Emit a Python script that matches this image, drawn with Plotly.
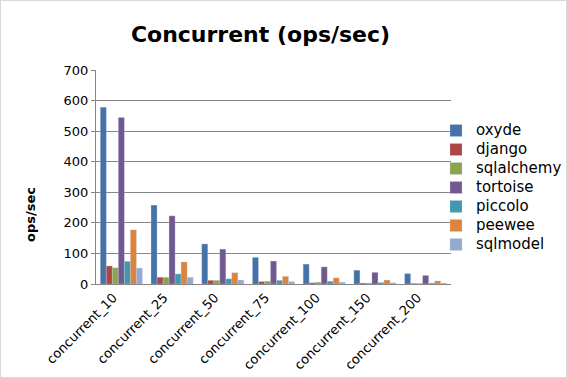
import plotly.graph_objects as go

categories = ["concurrent_10", "concurrent_25", "concurrent_50", "concurrent_75",
              "concurrent_100", "concurrent_150", "concurrent_200"]
oxyde = [578, 258, 131, 87, 65, 45, 34]
django = [59, 22, 12, 8, 4, 3, 2]
sqlalchemy = [53, 22, 12, 9, 6, 3, 2]
tortoise = [545, 223, 114, 75, 56, 38, 28]
piccolo = [74, 33, 17, 12, 9, 5, 3]
peewee = [177, 72, 37, 25, 20, 13, 10]
sqlmodel = [52, 22, 13, 8, 6, 4, 3]
y_ticks = [0, 100, 200, 300, 400, 500, 600, 700]

series = [
    ("oxyde", oxyde, "#4572A7"),
    ("django", django, "#AA4643"),
    ("sqlalchemy", sqlalchemy, "#89A54E"),
    ("tortoise", tortoise, "#71588F"),
    ("piccolo", piccolo, "#4198AF"),
    ("peewee", peewee, "#DB843D"),
    ("sqlmodel", sqlmodel, "#93A9CF"),
]

fig = go.Figure()
for name, vals, color in series:
    fig.add_trace(go.Bar(x=categories, y=vals,
                         name='<span style="font-size:15px">' + name + '</span>',
                         marker=dict(color=color, line=dict(color="rgba(200,210,230,0.6)", width=0.5))))

L, R, T, B = 96, 116, 70, 94
PW, PH = 567 - L - R, 378 - T - B

fig.update_layout(
    width=567, height=378,
    barmode="group", bargap=0.17, bargroupgap=0,
    paper_bgcolor="white", plot_bgcolor="white",
    font=dict(family="DejaVu Sans", size=13, color="black"),
    title=dict(text="<b>Concurrent (ops/sec)</b>", x=260.5 / 567, xref="container",
               xanchor="center", y=1 - 34 / 378, yref="container", yanchor="middle",
               font=dict(size=22, color="black")),
    margin=dict(l=L, r=R, t=T, b=B, autoexpand=False),
    legend=dict(x=(436 - L) / PW, xanchor="left", y=(284 - 187.5) / PH, yanchor="middle",
                font=dict(size=12), itemwidth=30, tracegroupgap=0,
                bgcolor="rgba(0,0,0,0)"),
    showlegend=True,
    annotations=[dict(text="<b>ops/sec</b>", xref="paper", yref="paper",
                      x=(30 - L) / PW, y=(284 - 215) / PH, xanchor="center",
                      yanchor="middle", textangle=-90, showarrow=False,
                      font=dict(size=13, color="black"))],
    shapes=[dict(type="rect", xref="paper", yref="paper",
                 x0=-L / PW, x1=1 + R / PW,
                 y0=-B / PH, y1=1 + T / PH,
                 line=dict(color="#d9d9d9", width=2))],
)
fig.update_yaxes(range=[0, 700], tickvals=y_ticks, showgrid=True, gridcolor="#868686",
                 gridwidth=1, showline=True, linecolor="#868686", ticks="outside",
                 ticklen=4, tickcolor="#868686", zeroline=False, automargin=False,
                 tickfont=dict(size=13))
fig.update_xaxes(tickangle=-45, showline=True, linecolor="#868686", ticks="",
                 automargin=False, ticklabelshift=-8, tickfont=dict(size=13))

fig.write_html("out.html", config={"displayModeBar": False},
               post_script="document.body.style.margin='0';document.body.style.overflow='hidden';")
